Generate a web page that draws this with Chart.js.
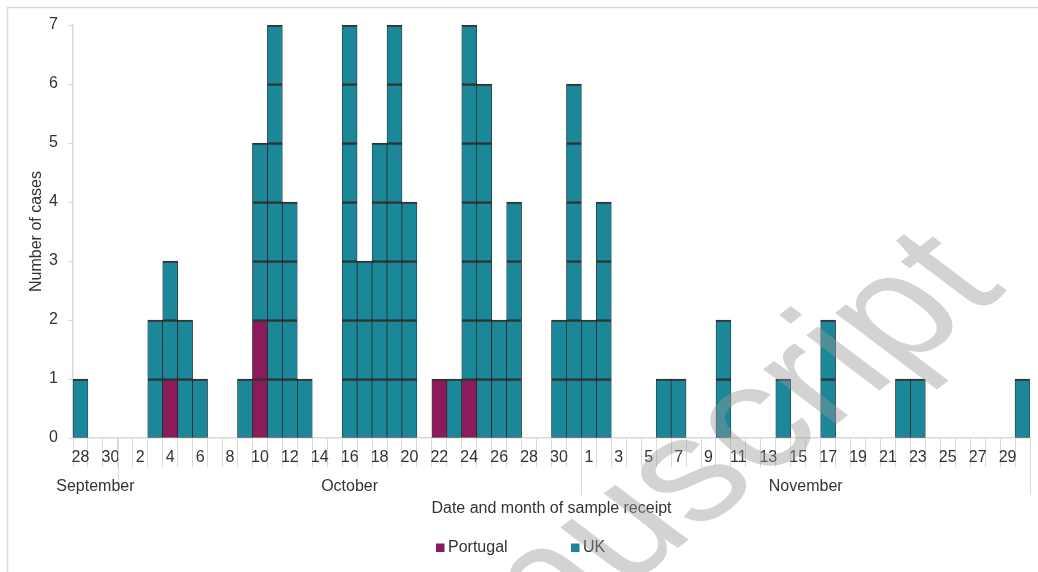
<!DOCTYPE html>
<html>
<head>
<meta charset="utf-8">
<script src="https://cdn.jsdelivr.net/npm/chart.js@4"></script>
<style>
html, body { margin: 0; padding: 0; background: #fff; }
</style>
</head>
<body>
<canvas id="chart" width="1038" height="572"></canvas>
<script>
// day of month for each category, 28 Sep .. 30 Nov
const dayLabels = [
    28, 29, 30,
    1, 2, 3, 4, 5, 6, 7, 8, 9, 10, 11, 12, 13, 14, 15, 16, 17, 18, 19, 20, 21, 22, 23, 24, 25, 26, 27, 28, 29, 30, 31,
    1, 2, 3, 4, 5, 6, 7, 8, 9, 10, 11, 12, 13, 14, 15, 16, 17, 18, 19, 20, 21, 22, 23, 24, 25, 26, 27, 28, 29, 30
]
const monthNames = ['September', 'October', 'November']
const monthLengths = [3, 31, 30]
const countries = ['Portugal', 'UK']

const portugalCases = [
    0, 0, 0,
    0, 0, 0, 1, 0, 0, 0, 0, 0, 2, 0, 0, 0, 0, 0, 0, 0, 0, 0, 0, 0, 1, 0, 1, 0, 0, 0, 0, 0, 0, 0,
    0, 0, 0, 0, 0, 0, 0, 0, 0, 0, 0, 0, 0, 0, 0, 0, 0, 0, 0, 0, 0, 0, 0, 0, 0, 0, 0, 0, 0, 0
]
const ukCases = [
    1, 0, 0,
    0, 0, 2, 2, 2, 1, 0, 0, 1, 3, 7, 4, 1, 0, 0, 7, 3, 5, 7, 4, 0, 0, 1, 6, 6, 2, 4, 0, 0, 2, 6,
    2, 4, 0, 0, 0, 1, 1, 0, 0, 2, 0, 0, 0, 1, 0, 0, 2, 0, 0, 0, 0, 1, 1, 0, 0, 0, 0, 0, 0, 1
]

const colours = ['#8b1b5b', '#1b889a']
const textColour = '#333333'
const lineGrey = '#d9d9d9'

Chart.defaults.font.family = "'Liberation Sans', Arial, sans-serif"
Chart.defaults.font.size = 16
Chart.defaults.color = textColour

// one dataset per case level, so every case is its own box
function caseLayers(counts, name, colour) {
    const sets = []
    const top = Math.max(...counts)
    for (let k = 1; k <= top; k++) {
        sets.push({
            label: name,
            data: counts.map(c => (c >= k ? 1 : null)),
            backgroundColor: colour,
            borderColor: 'rgba(0,0,0,0.8)',
            borderWidth: { top: 2, right: 0.75, bottom: 0.75, left: 0.75 },
            borderSkipped: false,
            categoryPercentage: 1,
            barPercentage: 1
        })
    }
    return sets
}

const extras = {
    id: 'extras',
    beforeDraw(chart) {
        const { ctx, width, height } = chart
        ctx.save()
        ctx.fillStyle = '#fff'
        ctx.fillRect(0, 0, width, height)
        ctx.strokeStyle = lineGrey
        ctx.lineWidth = 1.5
        ctx.beginPath()
        ctx.moveTo(7.5, height)
        ctx.lineTo(7.5, 7.5)
        ctx.lineTo(width, 7.5)
        ctx.stroke()
        ctx.restore()
    },
    afterDraw(chart) {
        const { ctx } = chart
        const xs = chart.scales.x
        const half = (xs.getPixelForValue(1) - xs.getPixelForValue(0)) / 2
        const base = chart.chartArea.bottom

        ctx.save()
        // month group separators and names
        ctx.strokeStyle = lineGrey
        ctx.lineWidth = 1
        ctx.fillStyle = textColour
        ctx.font = "16px 'Liberation Sans', Arial, sans-serif"
        ctx.textAlign = 'center'
        ctx.textBaseline = 'alphabetic'
        let start = 0
        monthNames.forEach((name, m) => {
            const end = start + monthLengths[m] - 1
            const x0 = xs.getPixelForValue(start) - half
            const x1 = xs.getPixelForValue(end) + half
            ctx.beginPath()
            ctx.moveTo(Math.round(x1) + 0.5, base)
            ctx.lineTo(Math.round(x1) + 0.5, base + 57)
            ctx.stroke()
            ctx.fillText(name, (x0 + x1) / 2, base + 53)
            start = end + 1
        })

        // legend
        ctx.textAlign = 'left'
        const legendX = [436, 571]
        countries.forEach((name, i) => {
            ctx.fillStyle = colours[i]
            ctx.fillRect(legendX[i], 543.5, 8.5, 8.5)
            ctx.fillStyle = textColour
            ctx.fillText(name, legendX[i] + 12, 552)
        })

        // watermark
        ctx.setTransform(0.788, -0.616, 0.799 * 1.05, 0.602 * 1.05, 1008, 290)
        ctx.font = "165px 'Liberation Sans', Arial, sans-serif"
        ctx.fillStyle = 'rgba(150,150,150,0.42)'
        ctx.textAlign = 'right'
        ctx.fillText('Manuscript', 0, 0)
        ctx.restore()
    }
}

new Chart(document.getElementById('chart'), {
    type: 'bar',
    data: {
        labels: dayLabels.map(String),
        datasets: [
            ...caseLayers(portugalCases, countries[0], colours[0]),
            ...caseLayers(ukCases, countries[1], colours[1])
        ]
    },
    options: {
        responsive: false,
        animation: false,
        devicePixelRatio: 1,
        layout: { padding: { left: 8, right: 8, top: 25, bottom: 52 } },
        plugins: {
            legend: { display: false },
            tooltip: { enabled: false }
        },
        scales: {
            x: {
                stacked: true,
                grid: {
                    offset: true,
                    drawOnChartArea: false,
                    tickLength: 29,
                    color: lineGrey
                },
                border: { color: lineGrey, width: 1.5 },
                ticks: {
                    autoSkip: false,
                    maxRotation: 0,
                    minRotation: 0,
                    padding: -19,
                    callback: (v, i) => (i % 2 === 0 ? dayLabels[i] : '')
                },
                title: {
                    display: true,
                    text: 'Date and month of sample receipt',
                    padding: { top: 0, bottom: 2 }
                },
                afterFit: s => { s.height = 82 }
            },
            y: {
                stacked: true,
                min: 0,
                max: 7,
                ticks: { stepSize: 1, padding: 10 },
                grid: { drawOnChartArea: false, tickLength: 5, color: lineGrey },
                border: { color: lineGrey, width: 1.5 },
                title: {
                    display: true,
                    text: 'Number of cases',
                    padding: { top: 19, bottom: 0 }
                },
                afterFit: s => { s.width = 65 }
            }
        }
    },
    plugins: [extras]
})
</script>
</body>
</html>
